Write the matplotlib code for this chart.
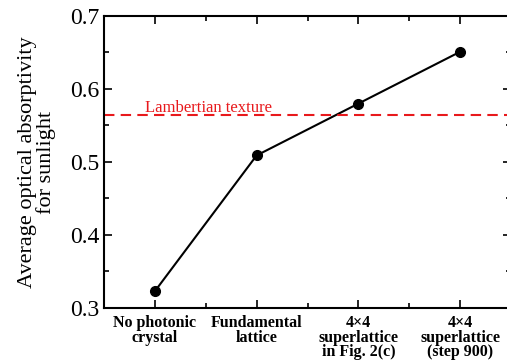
import matplotlib.pyplot as plt
from matplotlib.ticker import MultipleLocator

# Data
categories = ['No photonic\ncrystal', 'Fundamental\nlattice',
              '4\u00d74\nsuperlattice\nin Fig. 2(c)', '4\u00d74\nsuperlattice\n(step 900)']
absorptivity = [0.323, 0.509, 0.580, 0.651]
lambertian = 0.564

plt.rcParams['font.family'] = ['Liberation Serif', 'DejaVu Serif']

fig = plt.figure(figsize=(5.07, 3.62), dpi=100)
ax = fig.add_axes([104 / 507, 1 - 308 / 362, 407 / 507, 292 / 362])

x = list(range(len(categories)))
ax.plot(x, absorptivity, color='black', lw=1.5, marker='o', markersize=7)
ax.axhline(lambertian, color='#e8191c', ls=(0, (5, 3)), lw=1.5)
ax.text(-0.1, lambertian + 0.004, 'Lambertian texture', color='#e8191c',
        fontsize=12, va='baseline', ha='left')

ax.set_xlim(-0.5, 3.5)
ax.set_ylim(0.3, 0.7)
ax.set_xticks(x)
ax.set_xticklabels(categories, fontsize=11.5, fontweight='bold', linespacing=0.88)
ax.xaxis.set_minor_locator(MultipleLocator(0.5))
ax.yaxis.set_major_locator(MultipleLocator(0.1))
ax.yaxis.set_minor_locator(MultipleLocator(0.05))
ax.tick_params(axis='y', labelsize=17)
ax.tick_params(which='both', direction='in', top=True, right=True, width=1.2)
ax.tick_params(which='major', length=6)
ax.tick_params(which='minor', length=3.5)
ax.tick_params(axis='x', pad=5)
for s in ax.spines.values():
    s.set_linewidth(1.5)

ax.set_ylabel('Average optical absorptivity\nfor sunlight', fontsize=16, linespacing=0.95)
ax.yaxis.set_label_coords(-0.118, 0.5)

fig.savefig('out.png', dpi=100)
